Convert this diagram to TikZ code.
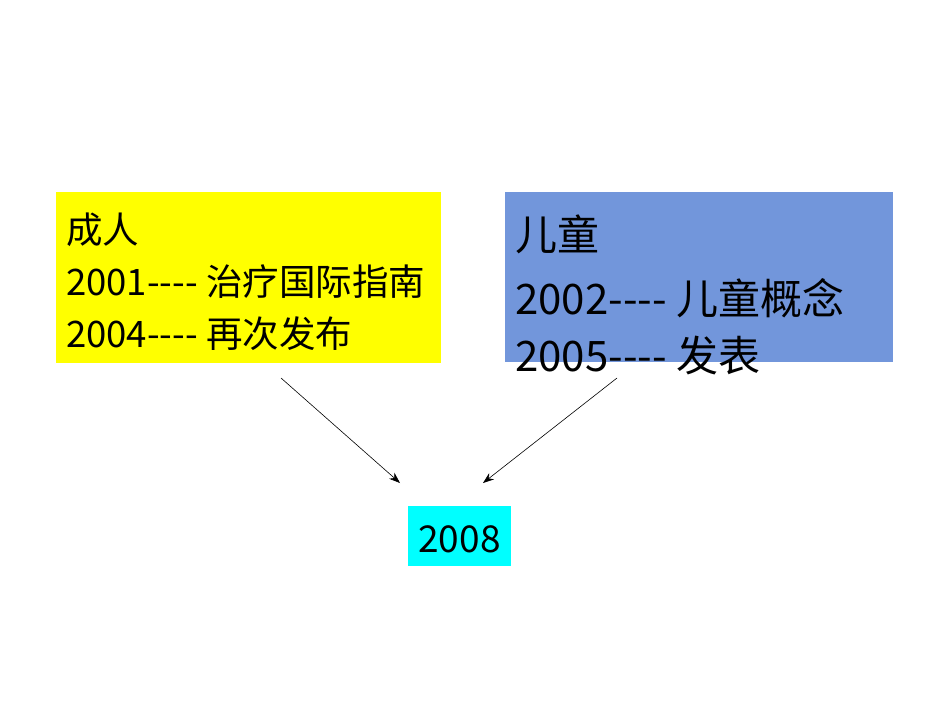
\documentclass[tikz,border=0pt]{standalone}
\usepackage{fontspec}
\setmainfont[Ligatures=TeXOff]{Noto Sans CJK SC}
\usetikzlibrary{arrows.meta}
\definecolor{yboxc}{RGB}{255,255,0}
\definecolor{bboxc}{RGB}{114,150,219}
\definecolor{cboxc}{RGB}{0,255,255}
\tikzset{
  panel/.style={inner sep=0pt, outer sep=0pt, anchor=north west},
  ytext/.style={anchor=base west, inner sep=0pt, font=\fontsize{36.5}{36.5}\selectfont},
  btext/.style={anchor=base west, inner sep=0pt, font=\fontsize{42}{42}\selectfont},
  conn/.style={line width=0.6pt, -{Stealth[length=11pt,width=8pt]}}
}
\begin{document}
\begin{tikzpicture}[x=1pt,y=-1pt]
\useasboundingbox (0,0) rectangle (950,713);
\fill[white] (0,0) rectangle (950,713);
\node[panel, fill=yboxc, minimum width=385pt, minimum height=171pt] (ybox) at (56,192) {};
\node[panel, fill=bboxc, minimum width=388pt, minimum height=170pt] (bbox) at (505,192) {};
\node[panel, fill=cboxc, minimum width=103pt, minimum height=60pt] (cbox) at (408,506) {};
\node[ytext] (y1) at (66,243) {成人};
\node[ytext] (y2) at (66,295) {2001---- 治疗国际指南};
\node[ytext] (y3) at (66,347) {2004---- 再次发布};
\node[btext] (b1) at (515,250) {儿童};
\node[btext] (b2) at (515,314) {2002---- 儿童概念};
\node[btext] (b3) at (515,371) {2005---- 发表};
\node[anchor=base, inner sep=0pt, font=\fontsize{37}{37}\selectfont] (c1) at (459.5,552) {2008};
\coordinate (ya) at (281,378);
\coordinate (yb) at (400,483);
\coordinate (ba) at (617,378);
\coordinate (bb) at (483,483);
\draw[conn] (ya) -- (yb);
\draw[conn] (ba) -- (bb);
\end{tikzpicture}
\end{document}
